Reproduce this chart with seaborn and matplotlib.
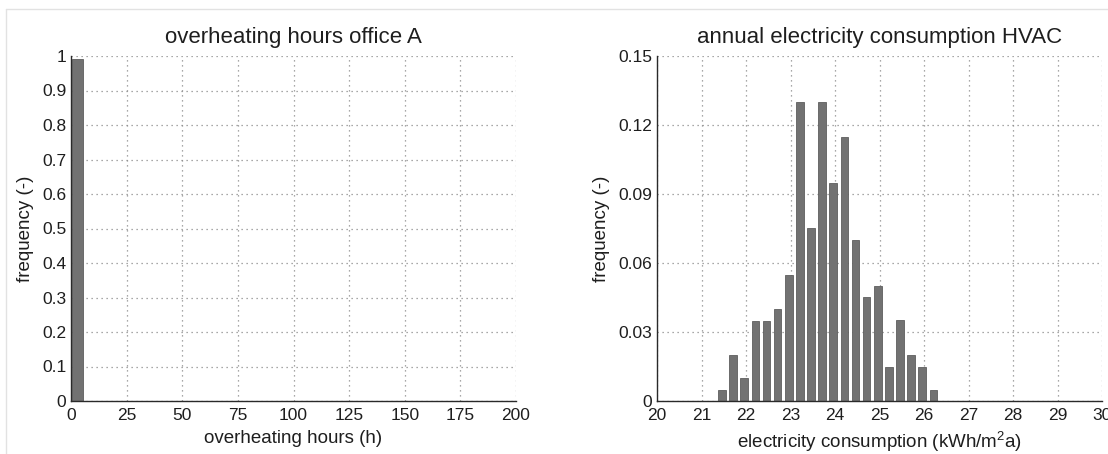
import numpy as np
import pandas as pd
import matplotlib
matplotlib.use("Agg")
import matplotlib.pyplot as plt
from matplotlib.lines import Line2D
import seaborn as sns

# ---- data ----
oh_centers = [2.9]
oh_freq = [0.99]
oh_edges = [0.4, 5.4]

el_centers = [21.46, 21.71, 21.96, 22.21, 22.46, 22.71, 22.96, 23.21, 23.46, 23.71,
              23.96, 24.21, 24.46, 24.71, 24.96, 25.21, 25.46, 25.71, 25.96, 26.21]
el_freq = [0.005, 0.02, 0.01, 0.035, 0.035, 0.04, 0.055, 0.13, 0.075, 0.13,
           0.095, 0.115, 0.07, 0.045, 0.05, 0.015, 0.035, 0.02, 0.015, 0.005]

left_xticks = [0, 25, 50, 75, 100, 125, 150, 175, 200]
left_yticks = [0, 0.1, 0.2, 0.3, 0.4, 0.5, 0.6, 0.7, 0.8, 0.9, 1]
left_yticklabels = ["0", "0.1", "0.2", "0.3", "0.4", "0.5", "0.6", "0.7", "0.8", "0.9", "1"]
right_xticks = [20, 21, 22, 23, 24, 25, 26, 27, 28, 29, 30]
right_yticks = [0, 0.03, 0.06, 0.09, 0.12, 0.15]
right_yticklabels = ["0", "0.03", "0.06", "0.09", "0.12", "0.15"]

sns.set_style("white")
plt.rcParams['font.family'] = ['Liberation Sans', 'DejaVu Sans']
plt.rcParams['mathtext.fontset'] = 'custom'
plt.rcParams['mathtext.rm'] = 'Liberation Sans'
plt.rcParams['mathtext.it'] = 'Liberation Sans'

W, H = 1108, 454
fig = plt.figure(figsize=(W / 100, H / 100), dpi=100)
ax1 = fig.add_axes([71 / W, 1 - 401 / H, (516 - 71) / W, (401 - 56) / H])
ax2 = fig.add_axes([657 / W, 1 - 401 / H, (1102 - 657) / W, (401 - 56) / H])

bar_kw = dict(color="#727272", edgecolor="#5e5e5e", linewidth=0.6, alpha=1, stat="count")

df_oh = pd.DataFrame({"x": oh_centers, "w": oh_freq})
df_el = pd.DataFrame({"x": el_centers, "w": el_freq})
el_edges = [c - 0.125 for c in el_centers] + [el_centers[-1] + 0.125]

sns.histplot(data=df_oh, x="x", weights="w", bins=oh_edges, ax=ax1, shrink=1.0, **bar_kw)
sns.histplot(data=df_el, x="x", weights="w", bins=el_edges, ax=ax2, shrink=0.68, **bar_kw)

TXT = "#1e1e1e"

def style(ax, xt, yt, ytl, xlim, ylim, title, xlabel):
    ax.set_xlim(*xlim)
    ax.set_ylim(*ylim)
    ax.set_xticks(xt)
    ax.set_xticklabels([str(v) for v in xt], fontsize=12.5)
    ax.set_yticks(yt)
    ax.set_yticklabels(ytl, fontsize=12.5)
    ax.grid(True, linestyle=(0, (1, 3)), color="#8c8c8c", linewidth=0.9)
    ax.set_axisbelow(True)
    for s in ["top", "right"]:
        ax.spines[s].set_visible(False)
    for s in ["left", "bottom"]:
        ax.spines[s].set_color("#2a2a2a")
        ax.spines[s].set_linewidth(1.0)
    ax.tick_params(direction="in", length=3.5, width=0.8, colors="#2a2a2a", labelcolor=TXT)
    ax.tick_params(axis="x", pad=5)
    ax.tick_params(axis="y", pad=3.5)
    ax.set_title(title, fontsize=16, pad=9, color=TXT)
    ax.set_xlabel(xlabel, fontsize=13.5, labelpad=5, color=TXT)
    ax.set_ylabel("frequency (-)", fontsize=13.5, labelpad=6, color=TXT)

style(ax1, left_xticks, left_yticks, left_yticklabels, (0, 200), (0, 1),
      "overheating hours office A", "overheating hours (h)")
style(ax2, right_xticks, right_yticks, right_yticklabels, (20, 30), (0, 0.15),
      "annual electricity consumption HVAC", "electricity consumption (kWh/m$^2$a)")

# faint frame lines of the original picture
fig.add_artist(Line2D([6 / W, 1], [1 - 9 / H, 1 - 9 / H], transform=fig.transFigure,
                      color="#e2e2e2", linewidth=1))
fig.add_artist(Line2D([6 / W, 6 / W], [0, 1 - 9 / H], transform=fig.transFigure,
                      color="#e2e2e2", linewidth=1))

fig.savefig("out.png", dpi=100, facecolor="white")
